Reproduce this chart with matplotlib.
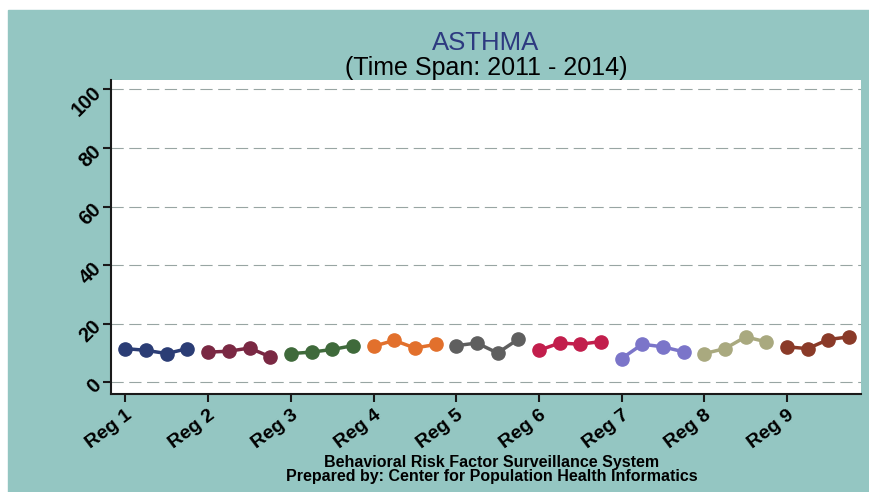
import matplotlib
matplotlib.use("Agg")
import matplotlib.pyplot as plt
from matplotlib.patches import Rectangle

plt.rcParams['font.family'] = ['Liberation Sans', 'DejaVu Sans']

# data: 4 yearly values (2011-2014) per region
regions = ['Reg 1', 'Reg 2', 'Reg 3', 'Reg 4', 'Reg 5',
           'Reg 6', 'Reg 7', 'Reg 8', 'Reg 9']
reg1 = [11.5, 10.9, 9.8, 11.5]
reg2 = [10.3, 10.6, 11.7, 8.7]
reg3 = [9.8, 10.3, 11.2, 12.5]
reg4 = [12.3, 14.3, 11.7, 12.9]
reg5 = [12.5, 13.4, 10.0, 14.7]
reg6 = [10.9, 13.4, 13.0, 13.9]
reg7 = [8.1, 13.0, 12.1, 10.4]
reg8 = [9.8, 11.5, 15.5, 13.8]
reg9 = [12.1, 11.5, 14.6, 15.5]
series = [reg1, reg2, reg3, reg4, reg5, reg6, reg7, reg8, reg9]
colors = ['#2b3d75', '#7a2843', '#3f6a3b', '#e2702c', '#5f5f5f',
          '#c21e4c', '#7b75c9', '#a9a97f', '#8a3a28']
yticks = [0, 20, 40, 60, 80, 100]

teal = '#94c6c2'
fig = plt.figure(figsize=(8.7, 4.92), dpi=100, facecolor='white')
fig.patches.append(Rectangle((8 / 870, 0), 1, 1 - 10 / 492,
                             transform=fig.transFigure, color=teal, zorder=-5))

ax = fig.add_axes([111 / 870, 1 - 394 / 492, 750 / 870, 314 / 492])
ax.set_zorder(2)
ax.set_facecolor('white')

for i, (vals, c) in enumerate(zip(series, colors)):
    xs = [i * 4 + j for j in range(len(vals))]
    ax.plot(xs, vals, color=c, lw=2.5, marker='o', ms=9.5, zorder=3)

for y in yticks:
    ax.axhline(y, color='#98a5a3', lw=0.8, ls=(0, (11, 5)), zorder=1)

ax.set_xlim(-0.7, 35.58)
ax.set_ylim(-4.0, 103.2)
ax.set_xticks([i * 4 for i in range(len(regions))])
ax.set_xticklabels(regions, rotation=37, ha='right', va='top',
                   rotation_mode='anchor', fontsize=14, fontweight='bold')
ax.set_yticks(yticks)
ax.set_yticklabels([str(v) for v in yticks], rotation=45, ha='right',
                   va='center', rotation_mode='anchor',
                   fontsize=14.5, fontweight='bold')

for s in ['top', 'right']:
    ax.spines[s].set_visible(False)
for s in ['left', 'bottom']:
    ax.spines[s].set_color('#1a1a1a')
    ax.spines[s].set_linewidth(1.5)
ax.tick_params(axis='both', length=6, width=1.5, color='#1a1a1a', pad=3)
ax.tick_params(axis='x', pad=3)

fig.text(486 / 870, 1 - 43 / 492, 'ASTHMA', ha='center', va='center',
         fontsize=18.5, color='#2d3a80')
fig.text(486 / 870, 1 - 68 / 492, '(Time Span: 2011 - 2014)', ha='center',
         va='center', fontsize=18, color='black')
fig.text(492 / 870, 1 - 463 / 492, 'Behavioral Risk Factor Surveillance System',
         ha='center', va='center', fontsize=11.5, fontweight='bold')
fig.text(492 / 870, 1 - 477 / 492,
         'Prepared by: Center for Population Health Informatics',
         ha='center', va='center', fontsize=11.5, fontweight='bold')

fig.savefig('out.png', dpi=100, facecolor=fig.get_facecolor())
